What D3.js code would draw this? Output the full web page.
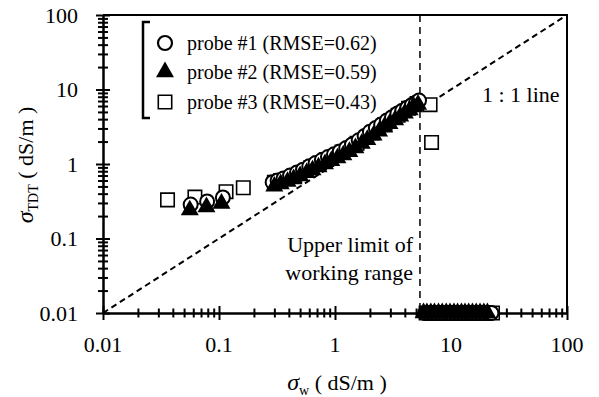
<!DOCTYPE html>
<html>
<head>
<meta charset="utf-8">
<script src="https://cdn.jsdelivr.net/npm/d3@7"></script>
<style>
  body { margin: 0; background: #fff; }
  text { font-family: "Liberation Serif", "Times New Roman", serif; fill: #000; }
</style>
</head>
<body>
<svg id="chart"></svg>
<script>
// σw vs σTDT, log-log
var majorTicks = [0.01, 0.1, 1, 10, 100];
var tickLabels = ["0.01", "0.1", "1", "10", "100"];
var upperLimit = 5.4; // dS/m, vertical dashed line
var clipValue = 0.01; // readings beyond limit drop to axis

var probeNames = ["probe #1 (RMSE=0.62)", "probe #2 (RMSE=0.59)", "probe #3 (RMSE=0.43)"];

// probe #1 (circles) [σw, σTDT]
var probe1 = [
  [0.057, 0.285], [0.079, 0.315], [0.108, 0.355],
  [0.29, 0.57], [0.32, 0.6], [0.36, 0.64], [0.41, 0.7], [0.47, 0.77], [0.53, 0.84],
  [0.6, 0.93], [0.68, 1.03], [0.77, 1.13], [0.87, 1.24], [0.98, 1.35], [1.1, 1.47],
  [1.25, 1.64], [1.4, 1.82], [1.6, 2.08], [1.8, 2.38], [2.0, 2.7], [2.25, 3.05],
  [2.5, 3.4], [2.8, 3.85], [3.1, 4.25], [3.45, 4.75], [3.8, 5.2], [4.2, 5.7],
  [4.6, 6.2], [5.0, 6.7], [5.3, 7.1]
];
var probe1Over = [6.0, 6.4, 6.9, 7.4, 8.0, 8.6, 9.3, 10, 10.8, 11.6, 12.5, 13.4, 14.4, 15.5, 16.7, 18, 19.4, 21, 22.3];

// probe #2 (triangles)
var probe2 = [
  [0.056, 0.24], [0.078, 0.265], [0.105, 0.295],
  [0.3, 0.5], [0.34, 0.54], [0.39, 0.58], [0.44, 0.63], [0.5, 0.69], [0.57, 0.76],
  [0.64, 0.83], [0.72, 0.91], [0.82, 1.0], [0.93, 1.1], [1.05, 1.2], [1.18, 1.32],
  [1.33, 1.46], [1.5, 1.64], [1.7, 1.88], [1.9, 2.12], [2.15, 2.42], [2.4, 2.75],
  [2.65, 3.1], [2.95, 3.45], [3.3, 3.9], [3.65, 4.35], [4.0, 4.8], [4.4, 5.3],
  [4.8, 5.8], [5.2, 6.3]
];
var probe2Over = [5.8, 6.2, 6.7, 7.2, 7.8, 8.4, 9.1, 9.8, 10.6, 11.4, 12.3, 13.2, 14.2, 15.3, 16.5, 17.8, 19.2, 20.6];

// probe #3 (squares)
var probe3 = [
  [0.036, 0.33], [0.062, 0.36], [0.115, 0.425], [0.162, 0.48],
  [0.3, 0.57], [0.34, 0.6], [0.45, 0.7], [0.62, 0.9], [0.85, 1.15], [1.15, 1.45],
  [1.55, 1.9], [2.1, 2.6], [2.7, 3.4], [3.5, 4.5], [4.3, 5.6], [5.1, 6.5],
  [6.6, 6.25], [6.8, 1.95]
];
var probe3Over = [6.1, 6.6, 7.3, 8.1, 9, 10, 11.2, 12.5, 14, 15.7, 17.6, 19.8, 22.8];

var W = 599, H = 397;
var m = {left: 103, right: 32, top: 15, bottom: 84};

var svg = d3.select("#chart").attr("width", W).attr("height", H);

var x = d3.scaleLog().domain([0.01, 100]).range([m.left, W - m.right]);
var y = d3.scaleLog().domain([0.01, 100]).range([H - m.bottom, m.top]);

var minorTicks = [];
majorTicks.slice(0, -1).forEach(function(t) {
  for (var k = 2; k <= 9; k++) minorTicks.push(t * k);
});

// frame (top + right)
svg.append("path")
  .attr("d", "M" + x(0.01) + "," + y(100) + "H" + x(100) + "V" + y(0.01))
  .attr("fill", "none").attr("stroke", "#000").attr("stroke-width", 2);

// 1:1 line
svg.append("line")
  .attr("x1", x(0.01)).attr("y1", y(0.01))
  .attr("x2", x(100)).attr("y2", y(100))
  .attr("stroke", "#000").attr("stroke-width", 2).attr("stroke-dasharray", "6,4");

// upper limit line
svg.append("line")
  .attr("x1", x(upperLimit)).attr("y1", y(100))
  .attr("x2", x(upperLimit)).attr("y2", y(0.01))
  .attr("stroke", "#000").attr("stroke-width", 1.5).attr("stroke-dasharray", "7,5");

// axes with ticks crossing the line
function xAxis(vals, half) {
  var g = svg.append("g").attr("transform", "translate(0," + y(0.01) + ")")
    .call(d3.axisBottom(x).tickValues(vals).tickFormat("").tickSizeOuter(0));
  g.select(".domain").attr("stroke-width", 2);
  g.selectAll(".tick line").attr("y1", -half).attr("y2", half).attr("stroke-width", 2);
  return g;
}
function yAxis(vals, half) {
  var g = svg.append("g").attr("transform", "translate(" + x(0.01) + ",0)")
    .call(d3.axisLeft(y).tickValues(vals).tickFormat("").tickSizeOuter(0));
  g.select(".domain").attr("stroke-width", 2);
  g.selectAll(".tick line").attr("x1", -half).attr("x2", half).attr("stroke-width", 2);
  return g;
}
xAxis(minorTicks, 4.5);
xAxis(majorTicks, 7);
yAxis(minorTicks, 5);
yAxis(majorTicks, 7);

svg.selectAll(".xlab").data(majorTicks).enter().append("text")
  .attr("x", function(d) { return x(d); })
  .attr("y", y(0.01) + 39)
  .attr("text-anchor", "middle")
  .attr("font-size", 22)
  .text(function(d, i) { return tickLabels[i]; });

svg.selectAll(".ylab").data(majorTicks).enter().append("text")
  .attr("x", x(0.01) - 25)
  .attr("y", function(d) { return y(d); })
  .attr("dy", "0.35em")
  .attr("text-anchor", "end")
  .attr("font-size", 22)
  .text(function(d, i) { return tickLabels[i]; });

// axis titles
var xt = svg.append("text").attr("x", 337).attr("y", 390)
  .attr("text-anchor", "middle").attr("font-size", 22);
xt.append("tspan").attr("font-style", "italic").attr("font-size", 24).text("σ");
xt.append("tspan").attr("font-size", 14).attr("dy", 5).text("w");
xt.append("tspan").attr("dy", -5).text(" ( dS/m )");

var yt = svg.append("text")
  .attr("transform", "translate(33,165) rotate(-90)")
  .attr("text-anchor", "middle").attr("font-size", 22);
yt.append("tspan").attr("font-style", "italic").attr("font-size", 24).text("σ");
yt.append("tspan").attr("font-size", 14).attr("dy", 5).text("TDT");
yt.append("tspan").attr("dy", -5).text(" ( dS/m )");

// annotations
svg.append("text").attr("x", 413).attr("y", 252).attr("text-anchor", "end")
  .attr("font-size", 22).text("Upper limit of");
svg.append("text").attr("x", 413).attr("y", 280).attr("text-anchor", "end")
  .attr("font-size", 22).text("working range");
svg.append("text").attr("x", 482).attr("y", 102).attr("font-size", 22).text("1 : 1 line");

// markers
var sq = d3.symbol().type(d3.symbolSquare).size(180);
var tri = d3.symbol().type(d3.symbolTriangle).size(140);

function pts(main, over) {
  return main.concat(over.map(function(v) { return [v, clipValue]; }));
}

svg.append("g").selectAll("path").data(pts(probe3, probe3Over)).enter().append("path")
  .attr("d", sq)
  .attr("transform", function(d) { return "translate(" + x(d[0]) + "," + y(d[1]) + ")"; })
  .attr("fill", "#fff").attr("stroke", "#000").attr("stroke-width", 1.6);

svg.append("g").selectAll("circle").data(pts(probe1, probe1Over)).enter().append("circle")
  .attr("cx", function(d) { return x(d[0]); })
  .attr("cy", function(d) { return y(d[1]); })
  .attr("r", 7)
  .attr("fill", "#fff").attr("stroke", "#000").attr("stroke-width", 2);

svg.append("g").selectAll("path").data(pts(probe2, probe2Over)).enter().append("path")
  .attr("d", tri)
  .attr("transform", function(d) { return "translate(" + x(d[0]) + "," + y(d[1]) + ")"; })
  .attr("fill", "#000");

// legend
var lg = svg.append("g");
lg.append("path").attr("d", "M150,22H143V118H150")
  .attr("fill", "none").attr("stroke", "#000").attr("stroke-width", 2.5);
var ly = [43, 72, 102];
lg.append("circle").attr("cx", 165).attr("cy", ly[0]).attr("r", 7)
  .attr("fill", "#fff").attr("stroke", "#000").attr("stroke-width", 2.2);
lg.append("path").attr("d", tri).attr("transform", "translate(165," + ly[1] + ")");
lg.append("path").attr("d", sq).attr("transform", "translate(165," + ly[2] + ")")
  .attr("fill", "#fff").attr("stroke", "#000").attr("stroke-width", 1.6);
lg.selectAll("text").data(probeNames).enter().append("text")
  .attr("x", 187).attr("y", function(d, i) { return ly[i] + 7; })
  .attr("font-size", 20)
  .text(function(d) { return d; });
</script>
</body>
</html>
